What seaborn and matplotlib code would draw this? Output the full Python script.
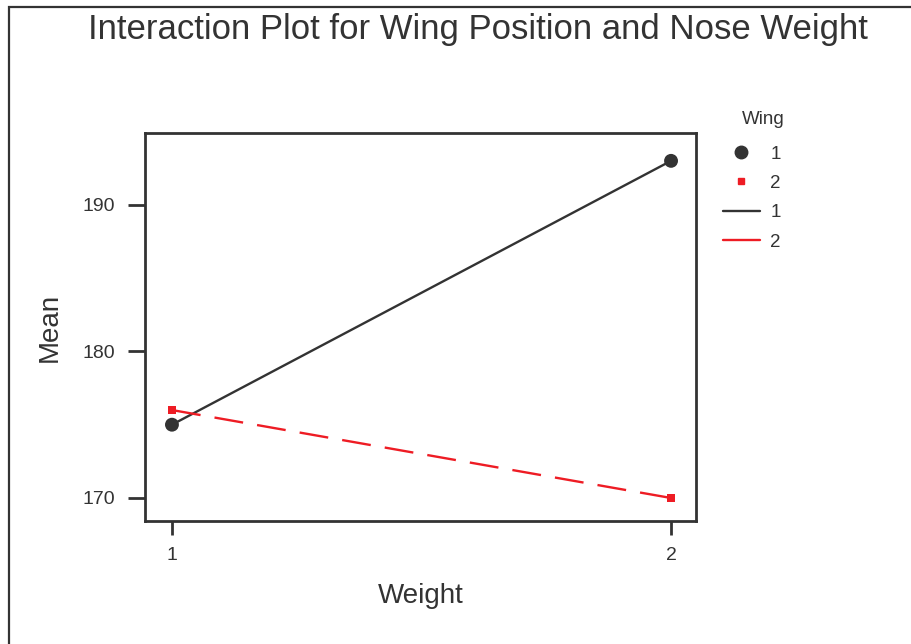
import matplotlib
matplotlib.use("Agg")
import matplotlib.pyplot as plt
import seaborn as sns
import pandas as pd
from matplotlib.lines import Line2D
from matplotlib.patches import Rectangle

weight = ["1", "2"]
wing1_means = [175, 193]
wing2_means = [176, 170]
wing_levels = ["1", "2"]

df = pd.DataFrame({
    "Weight": [1, 2, 1, 2],
    "Mean": wing1_means + wing2_means,
    "Wing": ["1", "1", "2", "2"],
})

sns.set_theme(style="white")
plt.rcParams["font.family"] = ["Liberation Sans", "DejaVu Sans"]

dark = "#333333"
red = "#ee1c24"

fig = plt.figure(figsize=(9.11, 6.44), dpi=100)
ax = fig.add_axes([145/911, 1 - 521/644, (696-145)/911, (521-133)/644])

sns.lineplot(data=df, x="Weight", y="Mean", hue="Wing", style="Wing",
             palette={"1": dark, "2": red}, dashes={"1": "", "2": (12.3, 6)},
             linewidth=1.7, legend=False, ax=ax)
sns.scatterplot(data=df, x="Weight", y="Mean", hue="Wing", style="Wing",
                palette={"1": dark, "2": red}, markers={"1": "o", "2": "s"},
                size="Wing", sizes={"1": 100, "2": 30}, linewidth=0,
                legend=False, ax=ax, zorder=3)

ax.set_xlim(0.946, 2.05)
ax.set_ylim(168.43, 194.9)
ax.set_xticks([1, 2])
ax.set_xticklabels(weight)
ax.set_yticks([170, 180, 190])
ax.tick_params(axis="both", direction="out", width=2, color=dark,
               labelsize=14, labelcolor=dark, bottom=True, left=True)
ax.tick_params(axis="y", length=12, pad=9.5)
ax.tick_params(axis="x", length=10, pad=8.5)
for s in ax.spines.values():
    s.set_color(dark)
    s.set_linewidth(2)

ax.set_xlabel("Weight", fontsize=20, color=dark, labelpad=14)
ax.set_ylabel("Mean", fontsize=20, color=dark, labelpad=14)

fig.text(478/911, 1 - 30/644,
         "Interaction Plot for Wing Position and Nose Weight",
         fontsize=25, color=dark, ha="center", va="center")

handles = [
    Line2D([], [], linestyle="none", marker="o", color=dark, markersize=9),
    Line2D([], [], linestyle="none", marker="s", color=red, markersize=5),
    Line2D([], [], color=dark, linewidth=1.7),
    Line2D([], [], color=red, linewidth=1.7),
]
fig.text(763/911, 1 - 119/644, "Wing", fontsize=13.5, color=dark,
         ha="center", va="center")
leg = fig.legend(handles, ["1", "2", "1", "2"],
                 loc="upper left", bbox_to_anchor=(715/911, 1 - 138/644),
                 frameon=False, fontsize=13.5,
                 handlelength=2.0, labelspacing=0.65, handletextpad=0.55,
                 borderaxespad=0, borderpad=0.4)
for t in leg.get_texts():
    t.set_color(dark)

fig.patches.append(Rectangle((8.5/911, -0.1), 1.2, 1.1 - 7.5/644,
                             transform=fig.transFigure, fill=False,
                             edgecolor=dark, linewidth=1.6))

fig.savefig("out.png", dpi=100)
